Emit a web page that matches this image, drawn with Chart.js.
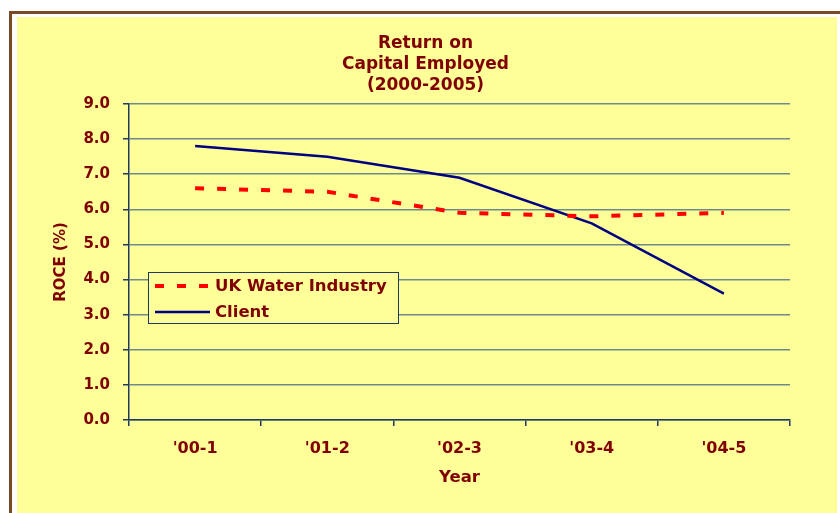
<!DOCTYPE html>
<html>
<head>
<meta charset="utf-8">
<script src="https://cdn.jsdelivr.net/npm/chart.js@4.4.0/dist/chart.umd.min.js"></script>
<style>
  body { margin: 0; background: #fff; width: 840px; height: 513px; overflow: hidden; }
  #frame { position: absolute; left: 9px; top: 11px; width: 840px; height: 520px;
           border-top: 3px solid #7a4a22; border-left: 3px solid #7a4a22; }
  #box { position: absolute; left: 17px; top: 17px; width: 820px; height: 496px; background: #ffff99; }
</style>
</head>
<body>
<div id="frame"></div>
<div id="box"><canvas id="myChart" width="820" height="496"></canvas></div>
<script>
const years = ["'00-1", "'01-2", "'02-3", "'03-4", "'04-5"];
const ukWater = [6.6, 6.5, 5.9, 5.8, 5.9];
const client = [7.8, 7.5, 6.9, 5.6, 3.6];
const yTicks = [0, 1, 2, 3, 4, 5, 6, 7, 8, 9];

const darkRed = '#800000';
const navy = '#000080';
const font = '"DejaVu Sans", Verdana, sans-serif';

// legend box inside the plot, like the excel one
const boxLegend = {
    id: 'boxLegend',
    afterDatasetsDraw(chart) {
        const ctx = chart.ctx;
        const a = chart.chartArea;
        const x = a.left + 19, y = a.top + 168, w = 250, h = 51;
        ctx.save();
        ctx.fillStyle = '#ffff99';
        ctx.fillRect(x, y, w, h);
        ctx.strokeStyle = '#1f3a60';
        ctx.lineWidth = 1;
        ctx.strokeRect(x + 0.5, y + 0.5, w, h);
        chart.data.datasets.forEach((ds, i) => {
            const ly = y + 14 + i * 26;
            ctx.beginPath();
            ctx.strokeStyle = ds.borderColor;
            ctx.lineWidth = ds.borderWidth;
            ctx.setLineDash(ds.borderDash || []);
            ctx.moveTo(x + 7, ly);
            ctx.lineTo(x + 62, ly);
            ctx.stroke();
            ctx.setLineDash([]);
            ctx.fillStyle = darkRed;
            ctx.font = 'bold 16.5px ' + font;
            ctx.textBaseline = 'middle';
            ctx.fillText(ds.label, x + 67, ly + 1);
        });
        ctx.restore();
    }
};

let ctx = document.getElementById('myChart').getContext('2d');
let myChart = new Chart(ctx, {
    type: 'line',
    data: {
        labels: years,
        datasets: [{
            label: 'UK Water Industry',
            data: ukWater,
            borderColor: '#ff0000',
            borderWidth: 4,
            borderDash: [9, 13],
            pointRadius: 0,
            fill: false
        }, {
            label: 'Client',
            data: client,
            borderColor: navy,
            borderWidth: 2.5,
            pointRadius: 0,
            fill: false
        }]
    },
    options: {
        responsive: false,
        animation: false,
        layout: { padding: { left: 22, right: 25, top: 0, bottom: 0 } },
        plugins: {
            legend: { display: false },
            tooltip: { enabled: false },
            title: {
                display: true,
                text: ['Return on', 'Capital Employed', '(2000-2005)'],
                color: darkRed,
                font: { family: font, size: 17, weight: 'bold', lineHeight: 1.235 },
                padding: { top: 16.5, bottom: 7.5 }
            }
        },
        scales: {
            x: {
                offset: true,
                afterFit: s => { s.height = 93; },
                grid: {
                    offset: true,
                    drawOnChartArea: true,
                    color: c => c.index === years.length ? '#1f3a60' : 'rgba(0,0,0,0)',
                    tickColor: '#1f3a60',
                    tickLength: 6,
                    lineWidth: 1.5
                },
                border: { color: '#1f3a60', width: 1.5 },
                ticks: {
                    color: darkRed,
                    padding: 13,
                    font: { family: font, size: 16, weight: 'bold' }
                },
                title: {
                    display: true,
                    text: 'Year',
                    color: darkRed,
                    font: { family: font, size: 16.5, weight: 'bold' },
                    padding: { top: 0, bottom: 25 }
                }
            },
            y: {
                min: 0,
                max: 9,
                afterFit: s => { s.width = 90; },
                afterBuildTicks: s => { s.ticks = yTicks.map(v => ({ value: v })); },
                grid: {
                    color: '#6f8a8a',
                    lineWidth: 1.5,
                    tickColor: '#1f3a60',
                    tickLength: 6
                },
                border: { color: '#1f3a60', width: 1.5 },
                ticks: {
                    color: darkRed,
                    padding: 13,
                    font: { family: font, size: 15, weight: 'bold' },
                    callback: v => v.toFixed(1)
                },
                title: {
                    display: true,
                    text: 'ROCE (%)',
                    color: darkRed,
                    font: { family: font, size: 15, weight: 'bold' },
                    padding: { top: 13, bottom: 0 }
                }
            },
            // empty box on the right so the title stays centred on the page
            yRight: {
                position: 'right',
                display: true,
                afterFit: s => { s.width = 22; },
                grid: { display: false },
                border: { display: false },
                ticks: { display: false }
            }
        }
    },
    plugins: [boxLegend]
});
</script>
</body>
</html>
